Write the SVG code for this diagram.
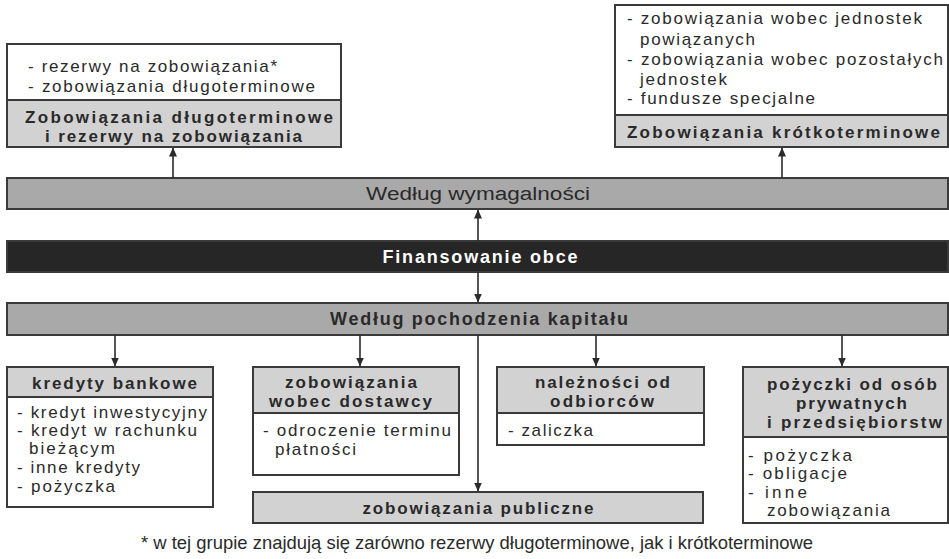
<svg xmlns="http://www.w3.org/2000/svg" width="949" height="559" viewBox="0 0 949 559">
  <defs>
    <marker id="arrow" markerWidth="9" markerHeight="8" refX="8.5" refY="4" orient="auto" markerUnits="userSpaceOnUse">
      <path d="M0,0 L9,4 L0,8 z" fill="#2b2b2b"/>
    </marker>
  </defs>
  <style>
    .box { fill: #ffffff; stroke: #3a3a3a; stroke-width: 2; }
    .head { fill: #d2d2d2; stroke: #3a3a3a; stroke-width: 2; }
    .bar { fill: #a9a9a9; stroke: #3a3a3a; stroke-width: 2; }
    .dark { fill: #262626; stroke: #3a3a3a; stroke-width: 2; }
    .item { font-family: "Liberation Sans", Arial, sans-serif; font-size: 17px; fill: #2a2a2a; }
    .title { font-family: "Liberation Sans", Arial, sans-serif; font-size: 17px; font-weight: bold; fill: #2a2a2a; }
    .bartext { font-family: "Liberation Sans", Arial, sans-serif; font-size: 18px; fill: #2a2a2a; text-anchor: middle; }
    .note { font-family: "Liberation Sans", Arial, sans-serif; font-size: 19px; fill: #2a2a2a; text-anchor: middle; }
    .link { stroke: #2b2b2b; stroke-width: 1.6; fill: none; }
  </style>
  <rect width="949" height="559" fill="#ffffff"/>

  <!-- long-term liabilities -->
  <g id="dlugoterminowe">
    <rect class="box" x="7" y="44" width="334" height="103"/>
    <rect class="head" x="7" y="100" width="334" height="47"/>
    <text class="item" x="28" y="72" textLength="249" lengthAdjust="spacing">- rezerwy na zobowiązania*</text>
    <text class="item" x="28" y="92" textLength="287" lengthAdjust="spacing">- zobowiązania długoterminowe</text>
    <text class="title" x="25" y="123" textLength="308" lengthAdjust="spacing">Zobowiązania długoterminowe</text>
    <text class="title" x="45" y="142" textLength="257" lengthAdjust="spacing">i rezerwy na zobowiązania</text>
  </g>

  <!-- short-term liabilities -->
  <g id="krotkoterminowe">
    <rect class="box" x="615" y="5" width="333" height="142"/>
    <rect class="head" x="615" y="115" width="333" height="32"/>
    <text class="item" x="627" y="24" textLength="295" lengthAdjust="spacing">- zobowiązania wobec jednostek</text>
    <text class="item" x="640" y="45" textLength="115" lengthAdjust="spacing">powiązanych</text>
    <text class="item" x="627" y="65" textLength="316" lengthAdjust="spacing">- zobowiązania wobec pozostałych</text>
    <text class="item" x="640" y="85" textLength="87" lengthAdjust="spacing">jednostek</text>
    <text class="item" x="627" y="104" textLength="188" lengthAdjust="spacing">- fundusze specjalne</text>
    <text class="title" x="627" y="138" font-size="18" textLength="313" lengthAdjust="spacing">Zobowiązania krótkoterminowe</text>
  </g>

  <!-- classification bars -->
  <g id="wymagalnosc">
    <rect class="bar" x="7" y="178" width="941" height="31"/>
    <text class="bartext" x="478" y="200" font-size="20" textLength="224" lengthAdjust="spacingAndGlyphs">Według wymagalności</text>
  </g>
  <g id="finansowanie">
    <rect class="dark" x="7" y="241" width="941" height="31"/>
    <text class="bartext" x="480" y="263" font-weight="bold" style="fill:#ffffff" textLength="195" lengthAdjust="spacing">Finansowanie obce</text>
  </g>
  <g id="pochodzenie">
    <rect class="bar" x="7" y="303" width="941" height="32"/>
    <text class="bartext" x="479" y="325" font-weight="bold" textLength="298" lengthAdjust="spacing">Według pochodzenia kapitału</text>
  </g>

  <!-- bank loans -->
  <g id="kredyty">
    <rect class="box" x="7" y="367" width="206" height="140"/>
    <rect class="head" x="7" y="367" width="206" height="30"/>
    <text class="title" x="32" y="389" font-size="18" textLength="165" lengthAdjust="spacing">kredyty bankowe</text>
    <text class="item" x="17" y="418" textLength="190" lengthAdjust="spacing">- kredyt inwestycyjny</text>
    <text class="item" x="17" y="436" textLength="180" lengthAdjust="spacing">- kredyt w rachunku</text>
    <text class="item" x="29" y="454" textLength="86" lengthAdjust="spacing">bieżącym</text>
    <text class="item" x="17" y="473" textLength="123" lengthAdjust="spacing">- inne kredyty</text>
    <text class="item" x="17" y="492" textLength="98" lengthAdjust="spacing">- pożyczka</text>
  </g>

  <!-- trade payables -->
  <g id="dostawcy">
    <rect class="box" x="253" y="367" width="206" height="108"/>
    <rect class="head" x="253" y="367" width="206" height="46"/>
    <text class="title" x="285" y="388" textLength="132" lengthAdjust="spacing">zobowiązania</text>
    <text class="title" x="269" y="407" textLength="163" lengthAdjust="spacing">wobec dostawcy</text>
    <text class="item" x="263" y="436" textLength="188" lengthAdjust="spacing">- odroczenie terminu</text>
    <text class="item" x="275" y="455" textLength="81" lengthAdjust="spacing">płatności</text>
  </g>

  <!-- customer advances -->
  <g id="odbiorcy">
    <rect class="box" x="497" y="367" width="207" height="78"/>
    <rect class="head" x="497" y="367" width="207" height="46"/>
    <text class="title" x="535" y="388" textLength="135" lengthAdjust="spacing">należności od</text>
    <text class="title" x="550" y="407" textLength="104" lengthAdjust="spacing">odbiorców</text>
    <text class="item" x="508" y="436" textLength="85" lengthAdjust="spacing">- zaliczka</text>
  </g>

  <!-- public liabilities -->
  <g id="publiczne">
    <rect class="head" x="253" y="492" width="450" height="31"/>
    <text class="title" x="478" y="514" font-size="18" text-anchor="middle" textLength="231" lengthAdjust="spacing">zobowiązania publiczne</text>
  </g>

  <!-- private and corporate loans -->
  <g id="pozyczki">
    <rect class="box" x="743" y="367" width="205" height="156"/>
    <rect class="head" x="743" y="367" width="205" height="70"/>
    <text class="title" x="767" y="390" textLength="170" lengthAdjust="spacing">pożyczki od osób</text>
    <text class="title" x="796" y="409" textLength="111" lengthAdjust="spacing">prywatnych</text>
    <text class="title" x="767" y="428" textLength="175" lengthAdjust="spacing">i przedsiębiorstw</text>
    <text class="item" x="748" y="461" textLength="104" lengthAdjust="spacing">- pożyczka</text>
    <text class="item" x="748" y="479" textLength="99" lengthAdjust="spacing">- obligacje</text>
    <text class="item" x="748" y="498" textLength="59" lengthAdjust="spacing">- inne</text>
    <text class="item" x="767" y="516" textLength="123" lengthAdjust="spacing">zobowiązania</text>
  </g>

  <!-- connectors -->
  <g id="connectors">
    <line class="link" x1="173" y1="178" x2="173" y2="148" marker-end="url(#arrow)"/>
    <line class="link" x1="782" y1="178" x2="782" y2="148" marker-end="url(#arrow)"/>
    <line class="link" x1="478" y1="241" x2="478" y2="210" marker-end="url(#arrow)"/>
    <line class="link" x1="478" y1="272" x2="478" y2="302" marker-end="url(#arrow)"/>
    <line class="link" x1="115" y1="335" x2="115" y2="366" marker-end="url(#arrow)"/>
    <line class="link" x1="360" y1="335" x2="360" y2="366" marker-end="url(#arrow)"/>
    <line class="link" x1="596" y1="335" x2="596" y2="366" marker-end="url(#arrow)"/>
    <line class="link" x1="842" y1="335" x2="842" y2="366" marker-end="url(#arrow)"/>
    <line class="link" x1="478" y1="335" x2="478" y2="491" marker-end="url(#arrow)"/>
  </g>

  <!-- footnote -->
  <text class="note" x="477" y="549" textLength="672" lengthAdjust="spacingAndGlyphs">* w tej grupie znajdują się zarówno rezerwy długoterminowe, jak i krótkoterminowe</text>
</svg>
